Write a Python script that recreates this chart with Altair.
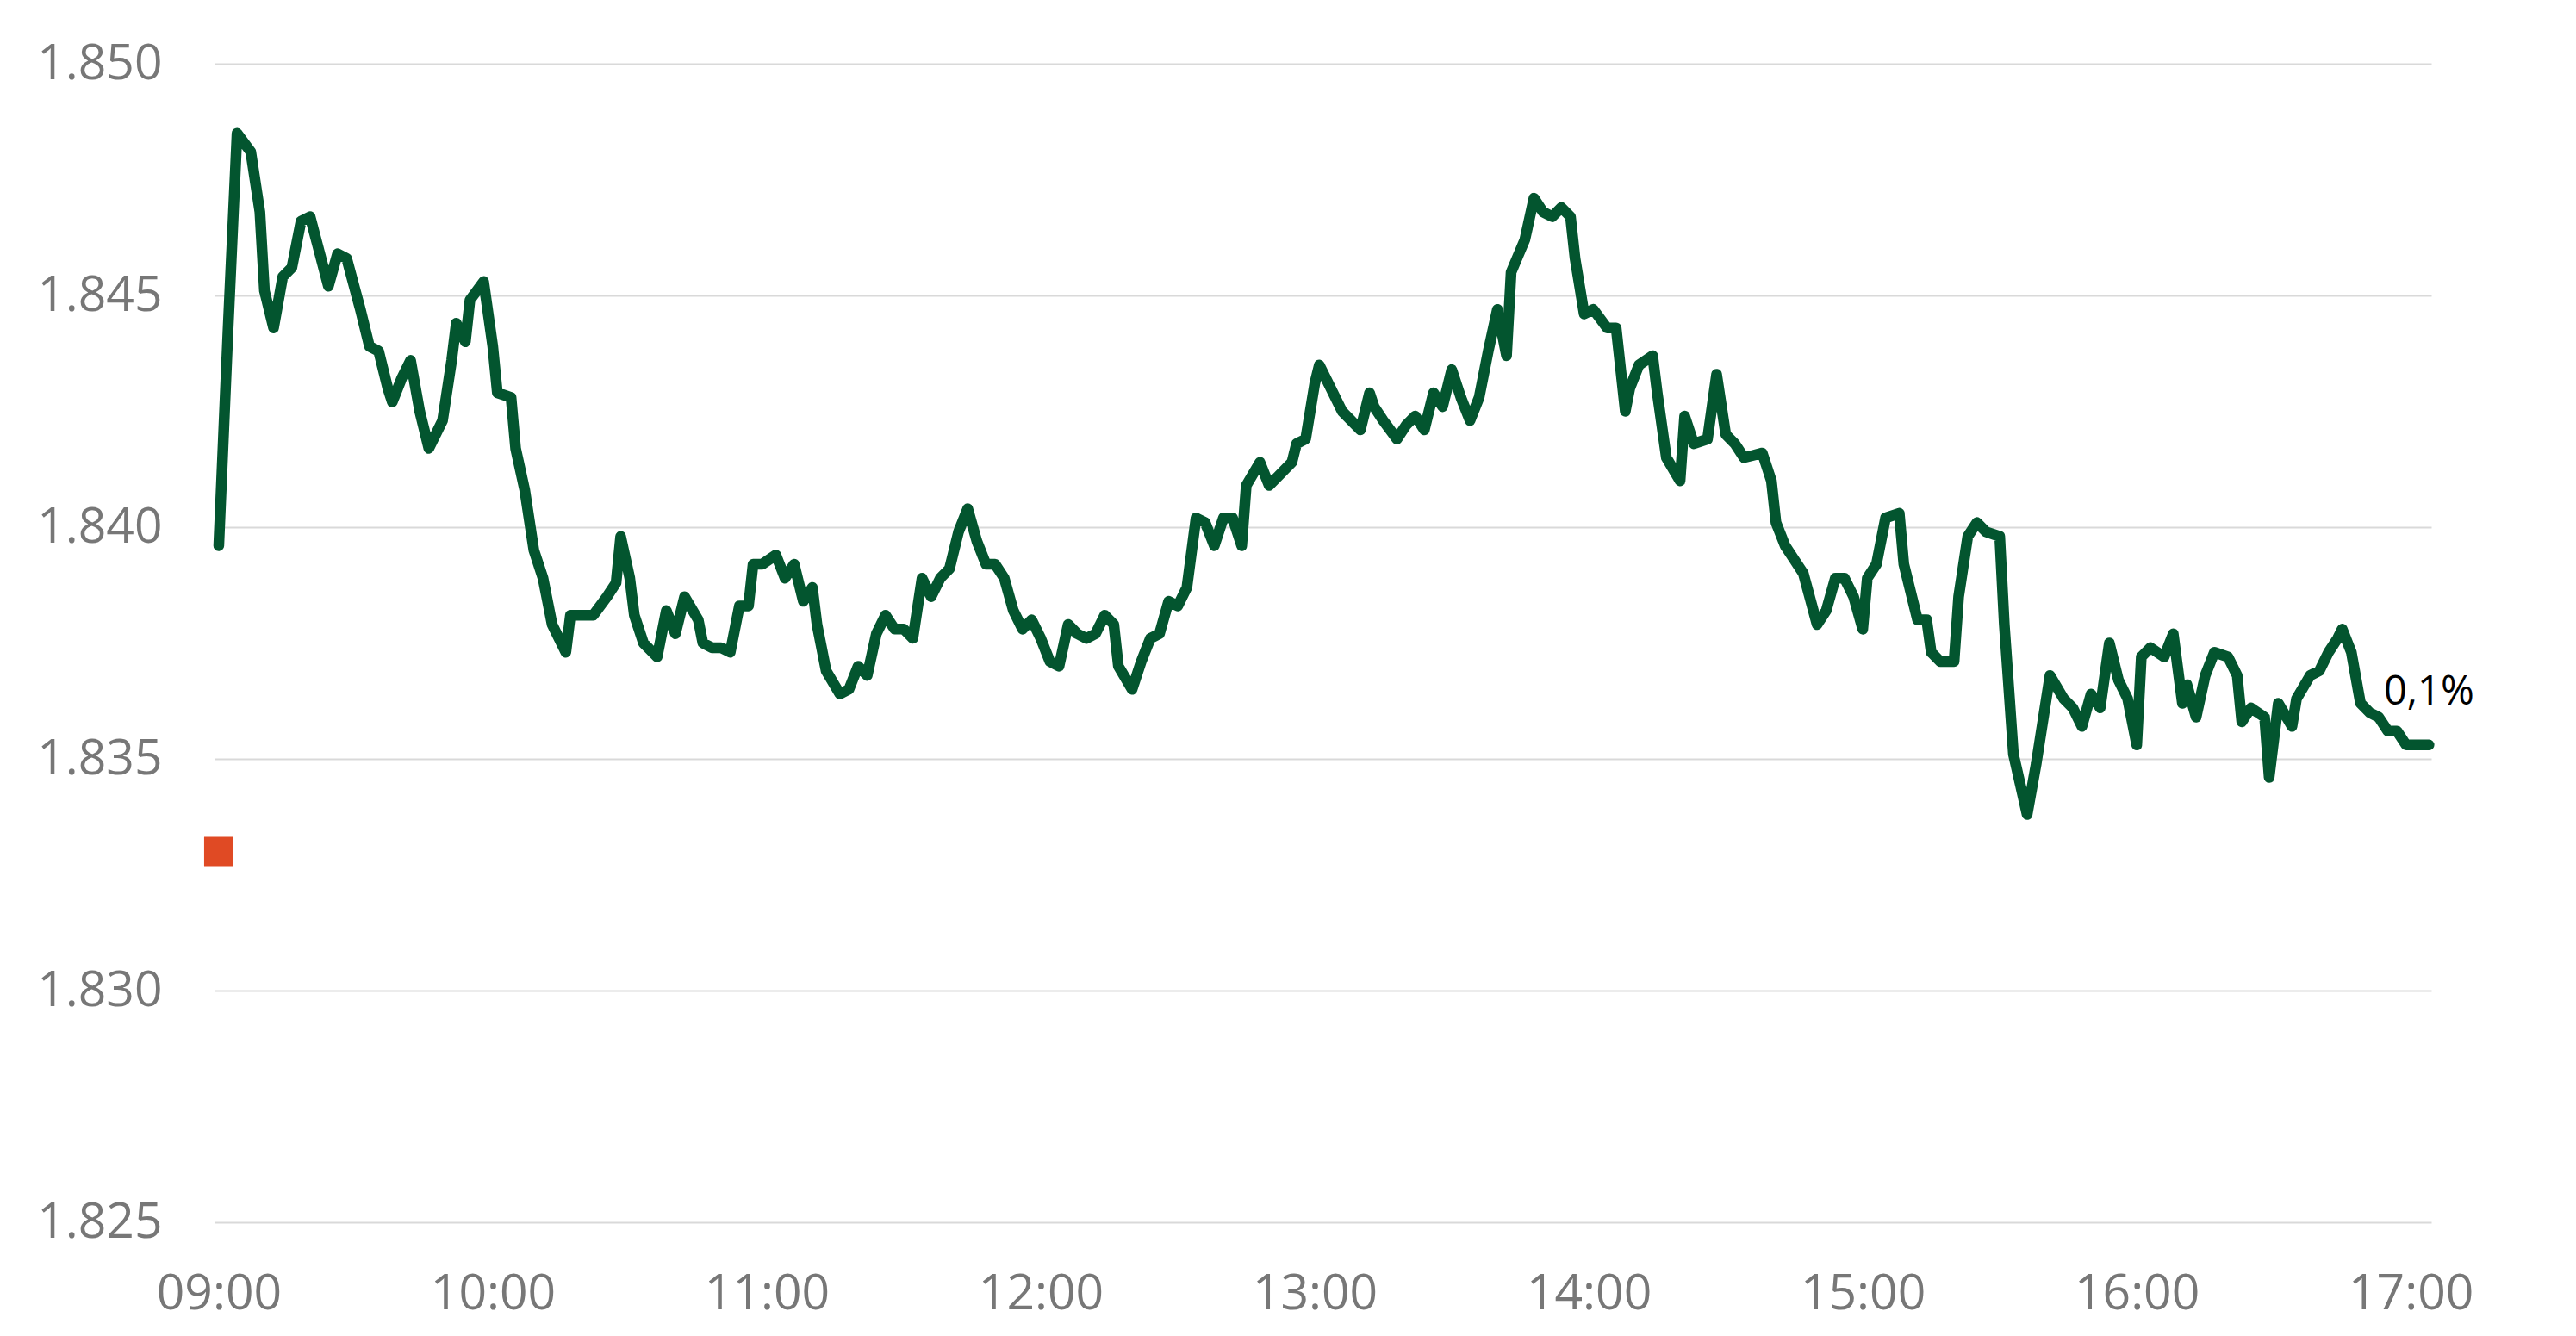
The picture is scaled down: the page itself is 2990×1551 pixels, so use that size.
import altair as alt
import pandas as pd

DAY = "2024-01-02T"

# intraday index values (time of vertex, index level)
times_09 = ["09:00", "09:02", "09:04", "09:07", "09:09", "09:10", "09:12", "09:14", "09:16", "09:18",
            "09:20", "09:24", "09:26", "09:28", "09:31", "09:33", "09:35", "09:37", "09:38", "09:40",
            "09:42", "09:44", "09:46", "09:49", "09:51", "09:52", "09:54", "09:55", "09:58"]
values_09 = [1839.6, 1844.2, 1848.5, 1848.1, 1846.8, 1845.1, 1844.3, 1845.4, 1845.6, 1846.6,
             1846.7, 1845.2, 1845.9, 1845.8, 1844.7, 1843.9, 1843.8, 1843.0, 1842.7, 1843.2,
             1843.6, 1842.5, 1841.7, 1842.3, 1843.6, 1844.4, 1844.0, 1844.9, 1845.3]

times_10 = ["10:00", "10:01", "10:04", "10:05", "10:07", "10:09", "10:11", "10:13", "10:16", "10:17",
            "10:20", "10:22", "10:25", "10:27", "10:28", "10:30", "10:31", "10:33", "10:36", "10:38",
            "10:40", "10:42", "10:45", "10:46", "10:48", "10:50", "10:52", "10:54", "10:56", "10:57",
            "10:59"]
values_10 = [1843.9, 1842.9, 1842.8, 1841.7, 1840.8, 1839.5, 1838.9, 1837.9, 1837.3, 1838.1,
             1838.1, 1838.1, 1838.5, 1838.8, 1839.8, 1838.9, 1838.1, 1837.5, 1837.2, 1838.2,
             1837.7, 1838.5, 1838.0, 1837.5, 1837.4, 1837.4, 1837.3, 1838.3, 1838.3, 1839.2,
             1839.2]

times_11 = ["11:02", "11:04", "11:06", "11:08", "11:10", "11:11", "11:13", "11:16", "11:18", "11:20",
            "11:22", "11:24", "11:26", "11:28", "11:30", "11:32", "11:34", "11:36", "11:38", "11:40",
            "11:42", "11:44", "11:46", "11:48", "11:50", "11:52", "11:54", "11:56", "11:58"]
values_11 = [1839.4, 1838.9, 1839.2, 1838.4, 1838.7, 1837.9, 1836.9, 1836.4, 1836.5, 1837.0,
             1836.8, 1837.7, 1838.1, 1837.8, 1837.8, 1837.6, 1838.9, 1838.5, 1838.9, 1839.1,
             1839.9, 1840.4, 1839.7, 1839.2, 1839.2, 1838.9, 1838.2, 1837.8, 1838.0]

times_12 = ["12:00", "12:02", "12:04", "12:06", "12:08", "12:10", "12:12", "12:14", "12:16", "12:17",
            "12:20", "12:22", "12:24", "12:26", "12:28", "12:30", "12:32", "12:34", "12:36", "12:38",
            "12:40", "12:42", "12:44", "12:45", "12:48", "12:50", "12:52", "12:55", "12:56", "12:58"]
values_12 = [1837.6, 1837.1, 1837.0, 1837.9, 1837.7, 1837.6, 1837.7, 1838.1, 1837.9, 1837.0,
             1836.5, 1837.1, 1837.6, 1837.7, 1838.4, 1838.3, 1838.7, 1840.2, 1840.1, 1839.6,
             1840.2, 1840.2, 1839.6, 1840.9, 1841.4, 1840.9, 1841.1, 1841.4, 1841.8, 1841.9]

times_13 = ["13:00", "13:01", "13:05", "13:06", "13:10", "13:12", "13:13", "13:15", "13:18", "13:20",
            "13:22", "13:24", "13:26", "13:28", "13:30", "13:32", "13:34", "13:36", "13:38", "13:40",
            "13:42", "13:43", "13:46", "13:48", "13:50", "13:52", "13:54", "13:56", "13:57", "13:59"]
values_13 = [1843.1, 1843.5, 1842.7, 1842.5, 1842.1, 1842.9, 1842.6, 1842.3, 1841.9, 1842.2,
             1842.4, 1842.1, 1842.9, 1842.6, 1843.4, 1842.8, 1842.3, 1842.8, 1843.8, 1844.7,
             1843.7, 1845.5, 1846.2, 1847.1, 1846.8, 1846.7, 1846.9, 1846.7, 1845.8, 1844.6]

times_14 = ["14:01", "14:04", "14:06", "14:08", "14:09", "14:11", "14:14", "14:15", "14:17", "14:20",
            "14:21", "14:23", "14:26", "14:28", "14:30", "14:32", "14:34", "14:38", "14:40", "14:41",
            "14:43", "14:45", "14:47", "14:50", "14:52", "14:54", "14:56", "14:58"]
values_14 = [1844.7, 1844.3, 1844.3, 1842.5, 1843.0, 1843.5, 1843.7, 1842.9, 1841.5, 1841.0,
             1842.4, 1841.8, 1841.9, 1843.3, 1842.0, 1841.8, 1841.5, 1841.6, 1841.0, 1840.1,
             1839.6, 1839.3, 1839.0, 1837.9, 1838.2, 1838.9, 1838.9, 1838.5]

times_15 = ["15:00", "15:01", "15:03", "15:05", "15:08", "15:09", "15:12", "15:14", "15:15", "15:17",
            "15:20", "15:21", "15:23", "15:25", "15:27", "15:30", "15:31", "15:33", "15:36", "15:38",
            "15:41", "15:44", "15:46", "15:48", "15:50", "15:52", "15:54", "15:56", "15:58"]
values_15 = [1837.8, 1838.9, 1839.2, 1840.2, 1840.3, 1839.2, 1838.0, 1838.0, 1837.3, 1837.1,
             1837.1, 1838.5, 1839.8, 1840.1, 1839.9, 1839.8, 1837.9, 1835.1, 1833.8, 1834.9,
             1836.8, 1836.3, 1836.1, 1835.7, 1836.4, 1836.1, 1837.5, 1836.7, 1836.3]

times_16 = ["16:00", "16:01", "16:03", "16:06", "16:08", "16:10", "16:11", "16:13", "16:15", "16:17",
            "16:20", "16:22", "16:23", "16:25", "16:28", "16:29", "16:31", "16:34", "16:35", "16:38",
            "16:40", "16:42", "16:44", "16:45", "16:47", "16:49", "16:51", "16:53", "16:55", "16:57",
            "16:59", "17:04"]
values_16 = [1835.3, 1837.2, 1837.4, 1837.2, 1837.7, 1836.2, 1836.6, 1835.9, 1836.8, 1837.3,
             1837.2, 1836.8, 1835.8, 1836.1, 1835.9, 1834.6, 1836.2, 1835.7, 1836.3, 1836.8,
             1836.9, 1837.3, 1837.6, 1837.8, 1837.3, 1836.2, 1836.0, 1835.9, 1835.6, 1835.6,
             1835.3, 1835.3]

# previous close marker and end label
prev_close_time = ["09:00"]
prev_close_value = [1833.0]
end_label = "0,1%"

y_ticks = [1825, 1830, 1835, 1840, 1845, 1850]
hour_ticks = [9, 10, 11, 12, 13, 14, 15, 16, 17]

times = times_09 + times_10 + times_11 + times_12 + times_13 + times_14 + times_15 + times_16
values = values_09 + values_10 + values_11 + values_12 + values_13 + values_14 + values_15 + values_16

df = pd.DataFrame({"time": [DAY + t for t in times], "value": values})
df_prev = pd.DataFrame({"time": [DAY + t for t in prev_close_time], "value": prev_close_value})
df_end = pd.DataFrame({"time": [DAY + times[-1]], "value": [values[-1]], "label": [end_label]})

FONT = "Open Sans"
GRAY = "#777777"

x_scale = alt.Scale(domain=[alt.DateTime(year=2024, month=1, date=2, hours=8, minutes=59, seconds=4),
                            alt.DateTime(year=2024, month=1, date=2, hours=17, minutes=4, seconds=30)])
y_scale = alt.Scale(domain=[1825, 1850], nice=False, zero=False)

x_axis = alt.Axis(
    values=[alt.DateTime(year=2024, month=1, date=2, hours=h) for h in hour_ticks],
    format="%H:%M", title=None, grid=False, ticks=False, domain=False,
    labelFont=FONT, labelFontSize=57, labelColor=GRAY, labelPadding=55,
    labelFlush=False, labelOverlap=False,
)
y_axis = alt.Axis(
    values=y_ticks, labelExpr="replace(format(datum.value, ','), ',', '.')",
    title=None, ticks=False, domain=False, grid=True, gridColor="#D9D9D9", gridWidth=2,
    labelFont=FONT, labelFontSize=57, labelColor=GRAY, labelPadding=61,
)

line = alt.Chart(df).mark_line(
    color="#03552F", strokeWidth=12.5, strokeCap="round", strokeJoin="round"
).encode(
    x=alt.X("time:T", scale=x_scale, axis=x_axis),
    y=alt.Y("value:Q", scale=y_scale, axis=y_axis),
)

prev = alt.Chart(df_prev).mark_square(size=1156, color="#E04A24", opacity=1).encode(
    x=alt.X("time:T", scale=x_scale),
    y=alt.Y("value:Q", scale=y_scale),
)

label = alt.Chart(df_end).mark_text(
    align="center", baseline="alphabetic", dy=-47, font=FONT, fontSize=47, color="#000000"
).encode(
    x=alt.X("time:T", scale=x_scale),
    y=alt.Y("value:Q", scale=y_scale),
    text="label:N",
)

chart = alt.layer(line, prev, label).properties(
    width=2573, height=1345,
    autosize=alt.AutoSizeParams(type="none"),
    padding={"left": 241, "top": 66, "right": 160, "bottom": 124},
    background="white",
).configure_view(stroke=None)

chart.save("out.html", embed_options={"renderer": "svg", "actions": False})
